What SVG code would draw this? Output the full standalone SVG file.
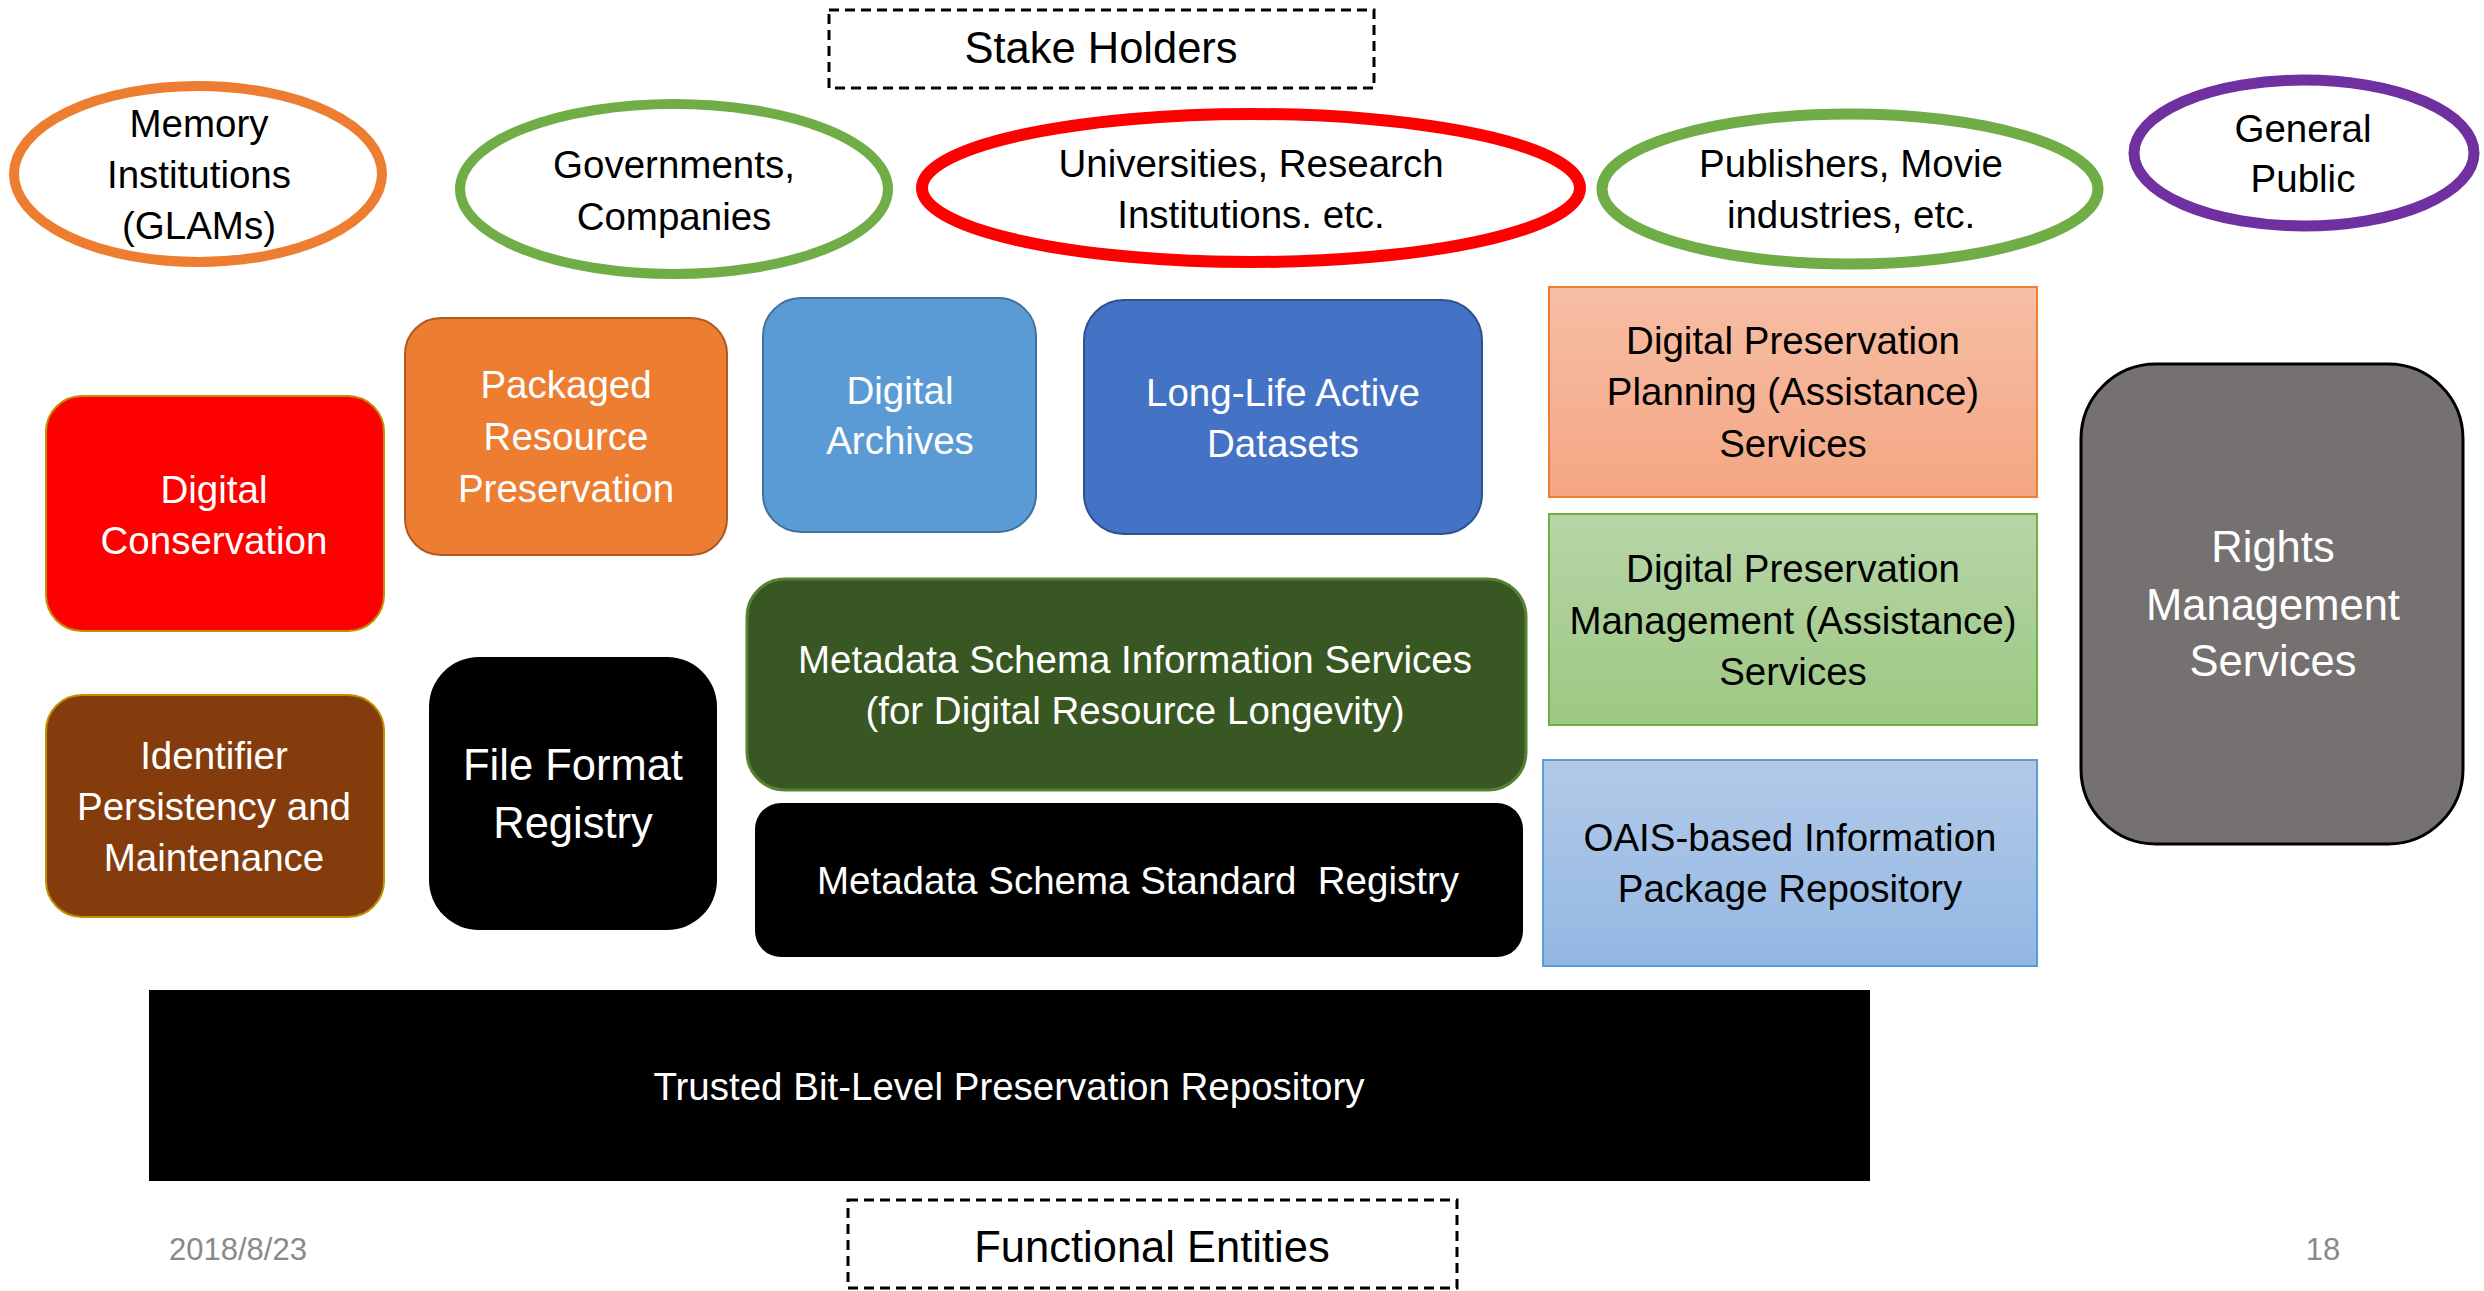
<svg xmlns="http://www.w3.org/2000/svg" width="2484" height="1291" viewBox="0 0 2484 1291">
<style>
text{font-family:"Liberation Sans",Arial,sans-serif;text-anchor:middle}
.b{font-size:38.5px;fill:#000}
.w{font-size:38.5px;fill:#fff}
.bl{font-size:43.5px;fill:#000}
.wl{font-size:43.5px;fill:#fff}
.ell{fill:#fff}
.dash{fill:none;stroke:#000;stroke-width:3;stroke-dasharray:10 6}
.foot{font-size:31px;fill:#898989}
</style>
<defs>
<linearGradient id="gOr" x1="0" y1="0" x2="0" y2="1"><stop offset="0" stop-color="#F7BEA5"/><stop offset="1" stop-color="#F4A683"/></linearGradient>
<linearGradient id="gGr" x1="0" y1="0" x2="0" y2="1"><stop offset="0" stop-color="#B7D6A8"/><stop offset="1" stop-color="#9DC882"/></linearGradient>
<linearGradient id="gBl" x1="0" y1="0" x2="0" y2="1"><stop offset="0" stop-color="#B2CAE8"/><stop offset="1" stop-color="#93B7E3"/></linearGradient>
</defs>
<rect width="2484" height="1291" fill="#fff"/>

<g id="stakeholders-label">
<rect class="dash" x="829" y="10" width="545" height="78"/>
<text class="bl" x="1101" y="63">Stake Holders</text>
</g>

<g id="memory-institutions">
<ellipse class="ell" cx="198" cy="174" rx="184" ry="88" stroke="#ED7D31" stroke-width="10"/>
<text class="b" x="199" y="137">Memory</text>
<text class="b" x="199" y="188">Institutions</text>
<text class="b" x="199" y="239">(GLAMs)</text>
</g>

<g id="governments">
<ellipse class="ell" cx="674" cy="189" rx="214" ry="85" stroke="#70AD47" stroke-width="10"/>
<text class="b" x="674" y="178">Governments,</text>
<text class="b" x="674" y="230">Companies</text>
</g>

<g id="universities">
<ellipse class="ell" cx="1251" cy="188" rx="329" ry="74" stroke="#FF0000" stroke-width="12"/>
<text class="b" x="1251" y="177">Universities, Research</text>
<text class="b" x="1251" y="228">Institutions. etc.</text>
</g>

<g id="publishers">
<ellipse class="ell" cx="1850" cy="189" rx="248" ry="75" stroke="#70AD47" stroke-width="11"/>
<text class="b" x="1851" y="177">Publishers, Movie</text>
<text class="b" x="1851" y="228">industries, etc.</text>
</g>

<g id="general-public">
<ellipse class="ell" cx="2304" cy="153" rx="170" ry="73" stroke="#7030A0" stroke-width="11"/>
<text class="b" x="2303" y="142">General</text>
<text class="b" x="2303" y="192">Public</text>
</g>

<g id="digital-conservation">
<rect x="46" y="396" width="338" height="235" rx="36" fill="#FF0000" stroke="#BF9000" stroke-width="2"/>
<text class="w" x="214" y="503">Digital</text>
<text class="w" x="214" y="554">Conservation</text>
</g>

<g id="packaged-resource">
<rect x="405" y="318" width="322" height="237" rx="36" fill="#ED7D31" stroke="#AE5A21" stroke-width="2"/>
<text class="w" x="566" y="398">Packaged</text>
<text class="w" x="566" y="450">Resource</text>
<text class="w" x="566" y="502">Preservation</text>
</g>

<g id="identifier-persistency">
<rect x="46" y="695" width="338" height="222" rx="36" fill="#843C0C" stroke="#BF9000" stroke-width="2"/>
<text class="w" x="214" y="769">Identifier</text>
<text class="w" x="214" y="820">Persistency and</text>
<text class="w" x="214" y="871">Maintenance</text>
</g>

<g id="file-format-registry">
<rect x="429" y="657" width="288" height="273" rx="50" fill="#000"/>
<text class="wl" x="573" y="780">File Format</text>
<text class="wl" x="573" y="838">Registry</text>
</g>

<g id="digital-archives">
<rect x="763" y="298" width="273" height="234" rx="38" fill="#5B9BD5" stroke="#41719C" stroke-width="2"/>
<text class="w" x="900" y="404">Digital</text>
<text class="w" x="900" y="454">Archives</text>
</g>

<g id="long-life-datasets">
<rect x="1084" y="300" width="398" height="234" rx="40" fill="#4472C4" stroke="#2F528F" stroke-width="2"/>
<text class="w" x="1283" y="406">Long-Life Active</text>
<text class="w" x="1283" y="457">Datasets</text>
</g>

<g id="metadata-info-services">
<rect x="747" y="579" width="779" height="211" rx="38" fill="#385723" stroke="#548235" stroke-width="3"/>
<text class="w" x="1135" y="673">Metadata Schema Information Services</text>
<text class="w" x="1135" y="724">(for Digital Resource Longevity)</text>
</g>

<g id="metadata-standard-registry">
<rect x="755" y="803" width="768" height="154" rx="26" fill="#000"/>
<text class="w" x="1138" y="894" xml:space="preserve">Metadata Schema Standard  Registry</text>
</g>

<g id="dp-planning">
<rect x="1549" y="287" width="488" height="210" fill="url(#gOr)" stroke="#ED7D31" stroke-width="2"/>
<text class="b" x="1793" y="354">Digital Preservation</text>
<text class="b" x="1793" y="405">Planning (Assistance)</text>
<text class="b" x="1793" y="457">Services</text>
</g>

<g id="dp-management">
<rect x="1549" y="514" width="488" height="211" fill="url(#gGr)" stroke="#70AD47" stroke-width="2"/>
<text class="b" x="1793" y="582">Digital Preservation</text>
<text class="b" x="1793" y="634">Management (Assistance)</text>
<text class="b" x="1793" y="685">Services</text>
</g>

<g id="oais-repository">
<rect x="1543" y="760" width="494" height="206" fill="url(#gBl)" stroke="#5B9BD5" stroke-width="2"/>
<text class="b" x="1790" y="851">OAIS-based Information</text>
<text class="b" x="1790" y="902">Package Repository</text>
</g>

<g id="rights-management">
<rect x="2081" y="364" width="382" height="480" rx="75" fill="#767171" stroke="#000" stroke-width="3"/>
<text class="wl" x="2273" y="562">Rights</text>
<text class="wl" x="2273" y="620">Management</text>
<text class="wl" x="2273" y="676">Services</text>
</g>

<g id="trusted-bit-level">
<rect x="149" y="990" width="1721" height="191" fill="#000"/>
<text class="w" x="1009" y="1100">Trusted Bit-Level Preservation Repository</text>
</g>

<g id="functional-entities-label">
<rect class="dash" x="848" y="1200" width="609" height="88"/>
<text class="bl" x="1152" y="1262">Functional Entities</text>
</g>

<g id="connectors"></g>

<g id="footer">
<text class="foot" x="238" y="1260">2018/8/23</text>
<text class="foot" x="2323" y="1260">18</text>
</g>
</svg>
